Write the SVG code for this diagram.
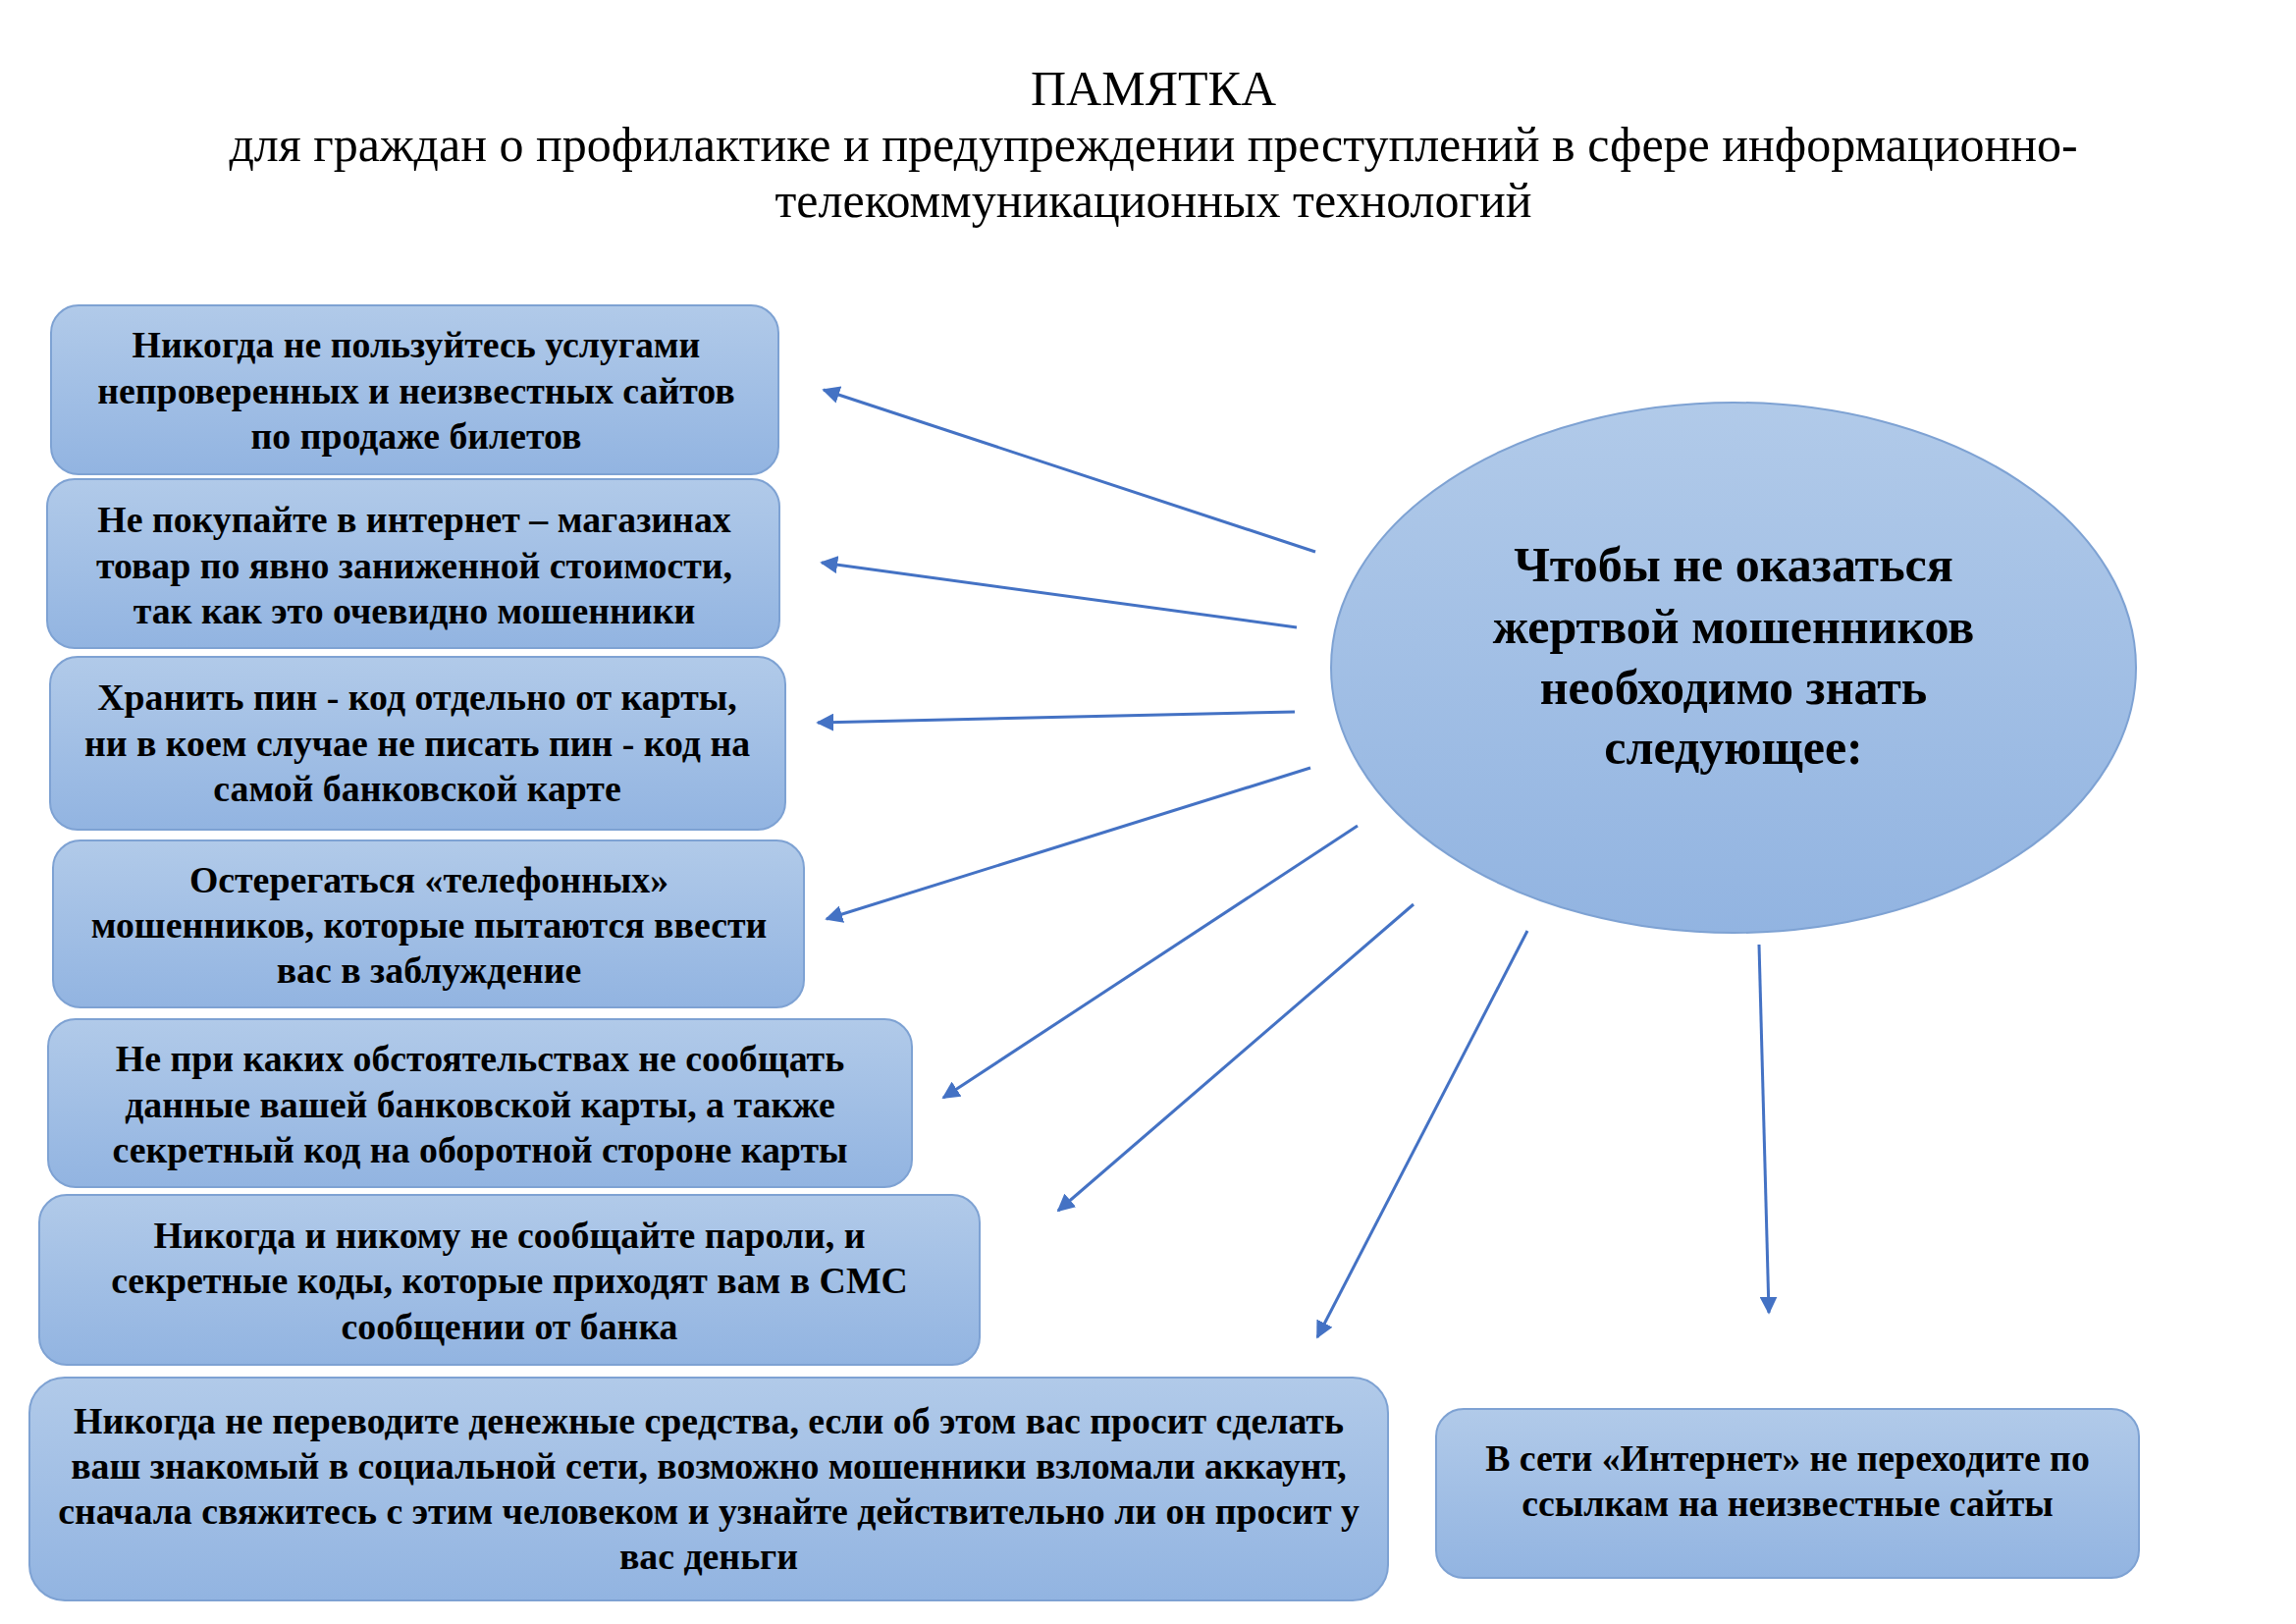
<svg xmlns="http://www.w3.org/2000/svg" width="2339" height="1654" viewBox="0 0 2339 1654">
<style>
.title{font-family:"Liberation Serif","Times New Roman",serif;font-size:50px;fill:#000;text-anchor:middle}
.bt{font-family:"Liberation Serif","Times New Roman",serif;font-size:37.8px;font-weight:bold;fill:#000;text-anchor:middle}
.et{font-family:"Liberation Serif","Times New Roman",serif;font-size:50px;font-weight:bold;fill:#000;text-anchor:middle}
.box{fill:url(#g);stroke:#7ea2d3;stroke-width:2}
.con{stroke:#4472c4;stroke-width:3;fill:none;marker-end:url(#ah)}
</style>
<defs>
<linearGradient id="g" x1="0" y1="0" x2="0" y2="1">
<stop offset="0" stop-color="#b1cae9"/>
<stop offset="1" stop-color="#92b4e1"/>
</linearGradient>
<marker id="ah" viewBox="0 0 10 10" refX="9" refY="5" markerWidth="6" markerHeight="6" orient="auto" markerUnits="strokeWidth">
<path d="M0,0 L10,5 L0,10 z" fill="#4472c4"/>
</marker>
</defs>
<rect width="2339" height="1654" fill="#fff"/>
<g id="title">
<text class="title" x="1175" y="107">ПАМЯТКА</text>
<text class="title" x="1175" y="164">для граждан о профилактике и предупреждении преступлений в сфере информационно-</text>
<text class="title" x="1175" y="221">телекоммуникационных технологий</text>
</g>
<g id="center">
<ellipse class="box" cx="1766" cy="680" rx="410" ry="270"/>
<text class="et" x="1766" y="592">Чтобы не оказаться</text>
<text class="et" x="1766" y="655">жертвой мошенников</text>
<text class="et" x="1766" y="717">необходимо знать</text>
<text class="et" x="1766" y="778">следующее:</text>
</g>
<g id="n1">
<rect class="box" x="52" y="311" width="741" height="172" rx="28"/>
<text class="bt" x="424" y="364">Никогда не пользуйтесь услугами</text>
<text class="bt" x="424" y="411">непроверенных и неизвестных сайтов</text>
<text class="bt" x="424" y="457">по продаже билетов</text>
</g>
<g id="n2">
<rect class="box" x="48" y="488" width="746" height="172" rx="28"/>
<text class="bt" x="422" y="542">Не покупайте в интернет – магазинах</text>
<text class="bt" x="422" y="589">товар по явно заниженной стоимости,</text>
<text class="bt" x="422" y="635">так как это очевидно мошенники</text>
</g>
<g id="n3">
<rect class="box" x="51" y="669" width="749" height="176" rx="28"/>
<text class="bt" x="425" y="723">Хранить пин - код отдельно от карты,</text>
<text class="bt" x="425" y="770">ни в коем случае не писать пин - код на</text>
<text class="bt" x="425" y="816">самой банковской карте</text>
</g>
<g id="n4">
<rect class="box" x="54" y="856" width="765" height="170" rx="28"/>
<text class="bt" x="437" y="909">Остерегаться «телефонных»</text>
<text class="bt" x="437" y="955">мошенников, которые пытаются ввести</text>
<text class="bt" x="437" y="1001">вас в заблуждение</text>
</g>
<g id="n5">
<rect class="box" x="49" y="1038" width="880" height="171" rx="28"/>
<text class="bt" x="489" y="1091">Не при каких обстоятельствах не сообщать</text>
<text class="bt" x="489" y="1138">данные вашей банковской карты, а также</text>
<text class="bt" x="489" y="1184">секретный код на оборотной стороне карты</text>
</g>
<g id="n6">
<rect class="box" x="40" y="1217" width="958" height="173" rx="28"/>
<text class="bt" x="519" y="1271">Никогда и никому не сообщайте пароли, и</text>
<text class="bt" x="519" y="1317">секретные коды, которые приходят вам в СМС</text>
<text class="bt" x="519" y="1364">сообщении от банка</text>
</g>
<g id="n7">
<rect class="box" x="30" y="1403" width="1384" height="227" rx="36"/>
<text class="bt" x="722" y="1460">Никогда не переводите денежные средства, если об этом вас просит сделать</text>
<text class="bt" x="722" y="1506">ваш знакомый в социальной сети, возможно мошенники взломали аккаунт,</text>
<text class="bt" x="722" y="1552">сначала свяжитесь с этим человеком и узнайте действительно ли он просит у</text>
<text class="bt" x="722" y="1598">вас деньги</text>
</g>
<g id="n8">
<rect class="box" x="1463" y="1435" width="716" height="172" rx="28"/>
<text class="bt" x="1821" y="1498">В сети «Интернет» не переходите по</text>
<text class="bt" x="1821" y="1544">ссылкам на неизвестные сайты</text>
</g>
<g id="connectors">
<line class="con" x1="1340" y1="562" x2="839" y2="397"/>
<line class="con" x1="1321" y1="639" x2="837" y2="573"/>
<line class="con" x1="1319" y1="725" x2="833" y2="736"/>
<line class="con" x1="1335" y1="782" x2="842" y2="936"/>
<line class="con" x1="1383" y1="841" x2="961" y2="1118"/>
<line class="con" x1="1440" y1="921" x2="1078" y2="1233"/>
<line class="con" x1="1556" y1="948" x2="1342" y2="1362"/>
<line class="con" x1="1792" y1="962" x2="1802" y2="1337"/>
</g>
</svg>
